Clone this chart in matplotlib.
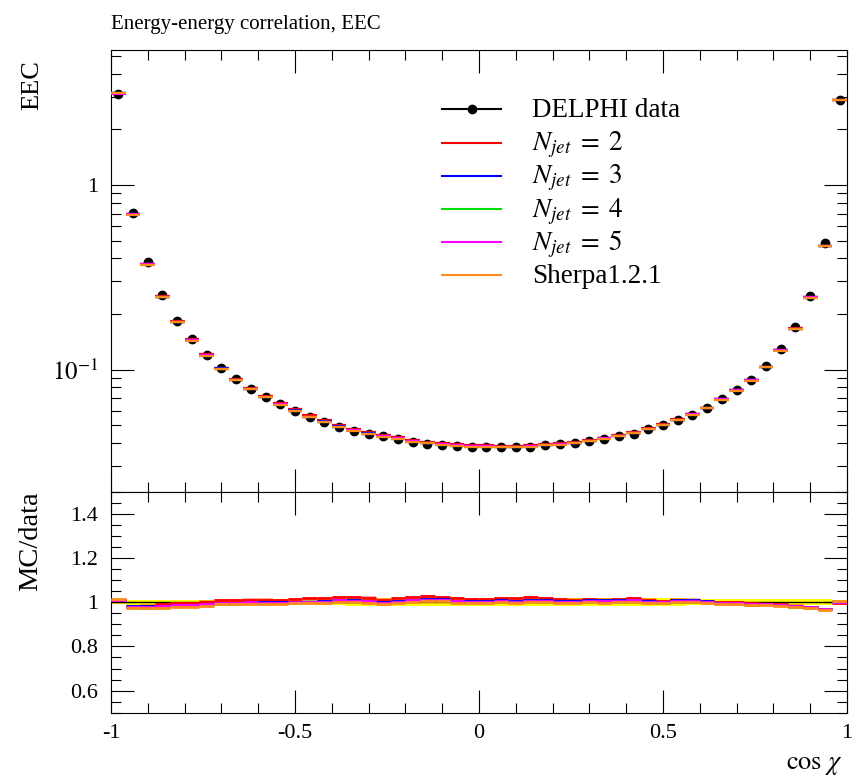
import matplotlib
matplotlib.use("Agg")
import matplotlib.pyplot as plt
import numpy as np
from matplotlib.ticker import FixedLocator, MultipleLocator, LogLocator, NullFormatter

# binning: 50 bins in cos(chi)
bin_edges = np.linspace(-1.0, 1.0, 51)

# DELPHI data, EEC per bin
data_vals = [3.10, 0.708, 0.381, 0.252, 0.184, 0.1466, 0.1206, 0.1017, 0.0886, 0.0786,
             0.0711, 0.0649, 0.0600, 0.0554, 0.0521, 0.0487, 0.0467, 0.0448, 0.0437, 0.0423,
             0.0406, 0.0396, 0.0389, 0.0387, 0.0383, 0.0383, 0.0380, 0.0380, 0.0381, 0.0388,
             0.0393, 0.0401, 0.0409, 0.0421, 0.0435, 0.0450, 0.0475, 0.0502, 0.0532, 0.0568,
             0.0617, 0.0691, 0.0776, 0.0883, 0.1042, 0.1288, 0.1695, 0.2517, 0.483, 2.886]
# relative data uncertainty (yellow band)
data_relerr = [0.009, 0.011, 0.011, 0.011, 0.011, 0.011, 0.011, 0.011, 0.011, 0.014,
               0.014, 0.014, 0.014, 0.014, 0.014, 0.014, 0.019, 0.019, 0.019, 0.019,
               0.019, 0.019, 0.019, 0.019, 0.019, 0.019, 0.019, 0.019, 0.019, 0.019,
               0.019, 0.019, 0.019, 0.019, 0.019, 0.019, 0.019, 0.019, 0.019, 0.014,
               0.014, 0.014, 0.014, 0.014, 0.014, 0.014, 0.014, 0.014, 0.014, 0.010]

# MC / data ratios
ratio_nj2 = [1.010, 0.980, 0.985, 0.990, 0.997, 0.997, 1.003, 1.008, 1.008, 1.012,
             1.012, 1.011, 1.015, 1.018, 1.019, 1.025, 1.024, 1.021, 1.012, 1.019,
             1.023, 1.026, 1.025, 1.018, 1.016, 1.016, 1.018, 1.017, 1.023, 1.018,
             1.014, 1.012, 1.015, 1.012, 1.015, 1.017, 1.012, 1.007, 1.012, 1.012,
             1.007, 1.000, 0.999, 0.995, 0.994, 0.991, 0.985, 0.979, 0.971, 0.998]
ratio_nj3 = [1.009, 0.982, 0.983, 0.983, 0.988, 0.989, 0.992, 0.997, 0.997, 1.001,
             1.000, 1.000, 1.002, 1.003, 1.005, 1.010, 1.008, 1.006, 1.000, 1.005,
             1.010, 1.014, 1.013, 1.007, 1.005, 1.005, 1.008, 1.005, 1.009, 1.008,
             1.005, 1.004, 1.008, 1.008, 1.008, 1.010, 1.005, 1.002, 1.008, 1.008,
             1.004, 0.998, 0.997, 0.993, 0.993, 0.989, 0.983, 0.978, 0.970, 1.000]
ratio_nj4 = [1.011, 0.978, 0.976, 0.978, 0.982, 0.983, 0.987, 0.992, 0.992, 0.996,
             0.996, 0.996, 0.998, 0.999, 1.000, 1.005, 1.003, 1.001, 0.995, 1.000,
             1.004, 1.009, 1.008, 1.001, 1.000, 1.000, 1.003, 1.000, 1.004, 1.003,
             1.000, 1.000, 1.003, 1.002, 1.003, 1.005, 1.000, 0.998, 1.003, 1.003,
             1.000, 0.995, 0.994, 0.989, 0.990, 0.986, 0.980, 0.975, 0.967, 1.003]
ratio_nj5 = [1.008, 0.980, 0.980, 0.981, 0.986, 0.987, 0.990, 0.995, 0.995, 0.999,
             0.998, 0.998, 1.000, 1.001, 1.003, 1.008, 1.006, 1.004, 0.998, 1.003,
             1.008, 1.012, 1.012, 1.005, 1.003, 1.003, 1.006, 1.003, 1.007, 1.006,
             1.003, 1.002, 1.006, 1.006, 1.006, 1.008, 1.003, 1.000, 1.006, 1.006,
             1.002, 0.997, 0.996, 0.992, 0.992, 0.988, 0.982, 0.977, 0.969, 1.001]
ratio_sherpa = [1.014, 0.976, 0.972, 0.976, 0.978, 0.980, 0.984, 0.990, 0.990, 0.994,
                0.994, 0.994, 0.996, 0.998, 0.998, 1.002, 1.000, 0.998, 0.992, 0.998,
                1.001, 1.006, 1.005, 0.998, 0.998, 0.998, 1.000, 0.998, 1.001, 1.000,
                0.998, 0.998, 1.000, 0.998, 1.000, 1.002, 0.998, 0.996, 1.000, 1.000,
                0.998, 0.993, 0.992, 0.986, 0.988, 0.984, 0.979, 0.973, 0.965, 1.005]
mc_relerr = 0.005

mc_labels = [r'$N_{jet} \;=\; 2$', r'$N_{jet} \;=\; 3$', r'$N_{jet} \;=\; 4$',
             r'$N_{jet} \;=\; 5$', 'Sherpa1.2.1']
mc_colors = ['#ff0000', '#0000ff', '#00e000', '#ff00ff', '#ff8c1a']
mc_ratios = [ratio_nj2, ratio_nj3, ratio_nj4, ratio_nj5, ratio_sherpa]

x_ticks = [-1, -0.5, 0, 0.5, 1]
x_ticklabels = ['-1', '-0.5', '0', '0.5', '1']
y_ticks_main = [0.1, 1]
y_ticklabels_main = [r'$10^{-1}$', '1']
y_ticks_ratio = [0.6, 0.8, 1.0, 1.2, 1.4]
y_ticklabels_ratio = ['0.6', '0.8', '1', '1.2', '1.4']

plt.rcParams['font.family'] = ['Liberation Serif', 'DejaVu Serif']
plt.rcParams['mathtext.fontset'] = 'stix'
plt.rcParams['axes.unicode_minus'] = False

lo = bin_edges[:-1]
hi = bin_edges[1:]
centers = 0.5 * (lo + hi)
width = bin_edges[1] - bin_edges[0]
data = np.array(data_vals)
derr = np.array(data_relerr)

fig = plt.figure(figsize=(8.63, 7.79), dpi=100)
ax = fig.add_axes([0.1286, 0.3688, 0.8528, 0.567])
rax = fig.add_axes([0.1286, 0.0851, 0.8528, 0.2837])

# main panel
ax.errorbar(centers, data, yerr=data * derr, fmt='o', color='black', ms=6, lw=1, zorder=2)
for r, c in zip(mc_ratios, mc_colors):
    ax.hlines(data * np.array(r), lo, hi, colors=c, lw=1.6, zorder=3)

ax.set_yscale('log')
ax.set_xlim(-1, 1)
ax.set_ylim(0.0218, 5.38)

# ratio panel
rax.bar(centers, 2 * derr, bottom=1 - derr, width=width, color='#ffff00', lw=0, zorder=1)
rax.axhline(1.0, color='black', lw=1, zorder=2)
for r, c in zip(mc_ratios, mc_colors):
    r = np.array(r)
    rax.bar(centers, 2 * mc_relerr, bottom=r - mc_relerr, width=width, color=c, alpha=0.35, lw=0, zorder=3)
    rax.hlines(r, lo, hi, colors=c, lw=2.0, zorder=4)
rax.set_xlim(-1, 1)
rax.set_ylim(0.5, 1.5)

# ticks
for a in (ax, rax):
    a.tick_params(which='both', direction='in', top=True, right=True, width=0.8)
    a.tick_params(which='major', length=16.5)
    a.tick_params(which='minor', length=7.5)
    a.xaxis.set_major_locator(FixedLocator(x_ticks))
    a.xaxis.set_minor_locator(MultipleLocator(0.1))
    for s in a.spines.values():
        s.set_linewidth(0.8)

ax.yaxis.set_major_locator(FixedLocator(y_ticks_main))
ax.yaxis.set_minor_locator(LogLocator(base=10, subs=np.arange(2, 10)))
ax.yaxis.set_minor_formatter(NullFormatter())
ax.set_yticklabels(y_ticklabels_main)
ax.set_xticklabels([])
ax.tick_params(axis='y', labelsize=16, pad=9)
ax.get_yticklabels()[0].set_fontsize(18)

rax.yaxis.set_major_locator(FixedLocator(y_ticks_ratio))
rax.yaxis.set_minor_locator(MultipleLocator(0.05))
rax.set_yticklabels(y_ticklabels_ratio)
rax.set_xticklabels(x_ticklabels)
rax.tick_params(axis='y', labelsize=16, pad=9)
rax.tick_params(axis='x', labelsize=16, pad=8)

# labels
ax.set_title('Energy-energy correlation, EEC', loc='left', fontsize=15, pad=15)
ax.set_ylabel('EEC', loc='top', fontsize=19)
ax.yaxis.set_label_coords(-0.092, 0.978)
rax.set_ylabel('MC/data', loc='top', fontsize=20.5)
rax.yaxis.set_label_coords(-0.092, 1.0)
rax.set_xlabel(r'$\cos\,\chi$', loc='right', fontsize=19)
rax.xaxis.set_label_coords(0.994, -0.19)

# legend, drawn by hand in axes fraction
leg_x0, leg_x1, leg_txt = 0.450, 0.530, 0.5716
leg_y = [0.8657, 0.7901, 0.7154, 0.6400, 0.5653, 0.4899]
ax.plot([leg_x0, leg_x1], [leg_y[0], leg_y[0]], color='black', lw=1.5, transform=ax.transAxes)
ax.plot([0.5 * (leg_x0 + leg_x1)], [leg_y[0]], 'o', color='black', ms=6, transform=ax.transAxes)
ax.text(leg_txt, leg_y[0] - 0.018, 'DELPHI data', fontsize=19.5, va='baseline', transform=ax.transAxes)
for yy, lab, c in zip(leg_y[1:], mc_labels, mc_colors):
    ax.plot([leg_x0, leg_x1], [yy, yy], color=c, lw=1.5, transform=ax.transAxes)
    ax.text(leg_txt, yy - 0.018, lab, fontsize=19.5, va='baseline', transform=ax.transAxes)

fig.savefig('out.png', dpi=100)
plt.close(fig)
